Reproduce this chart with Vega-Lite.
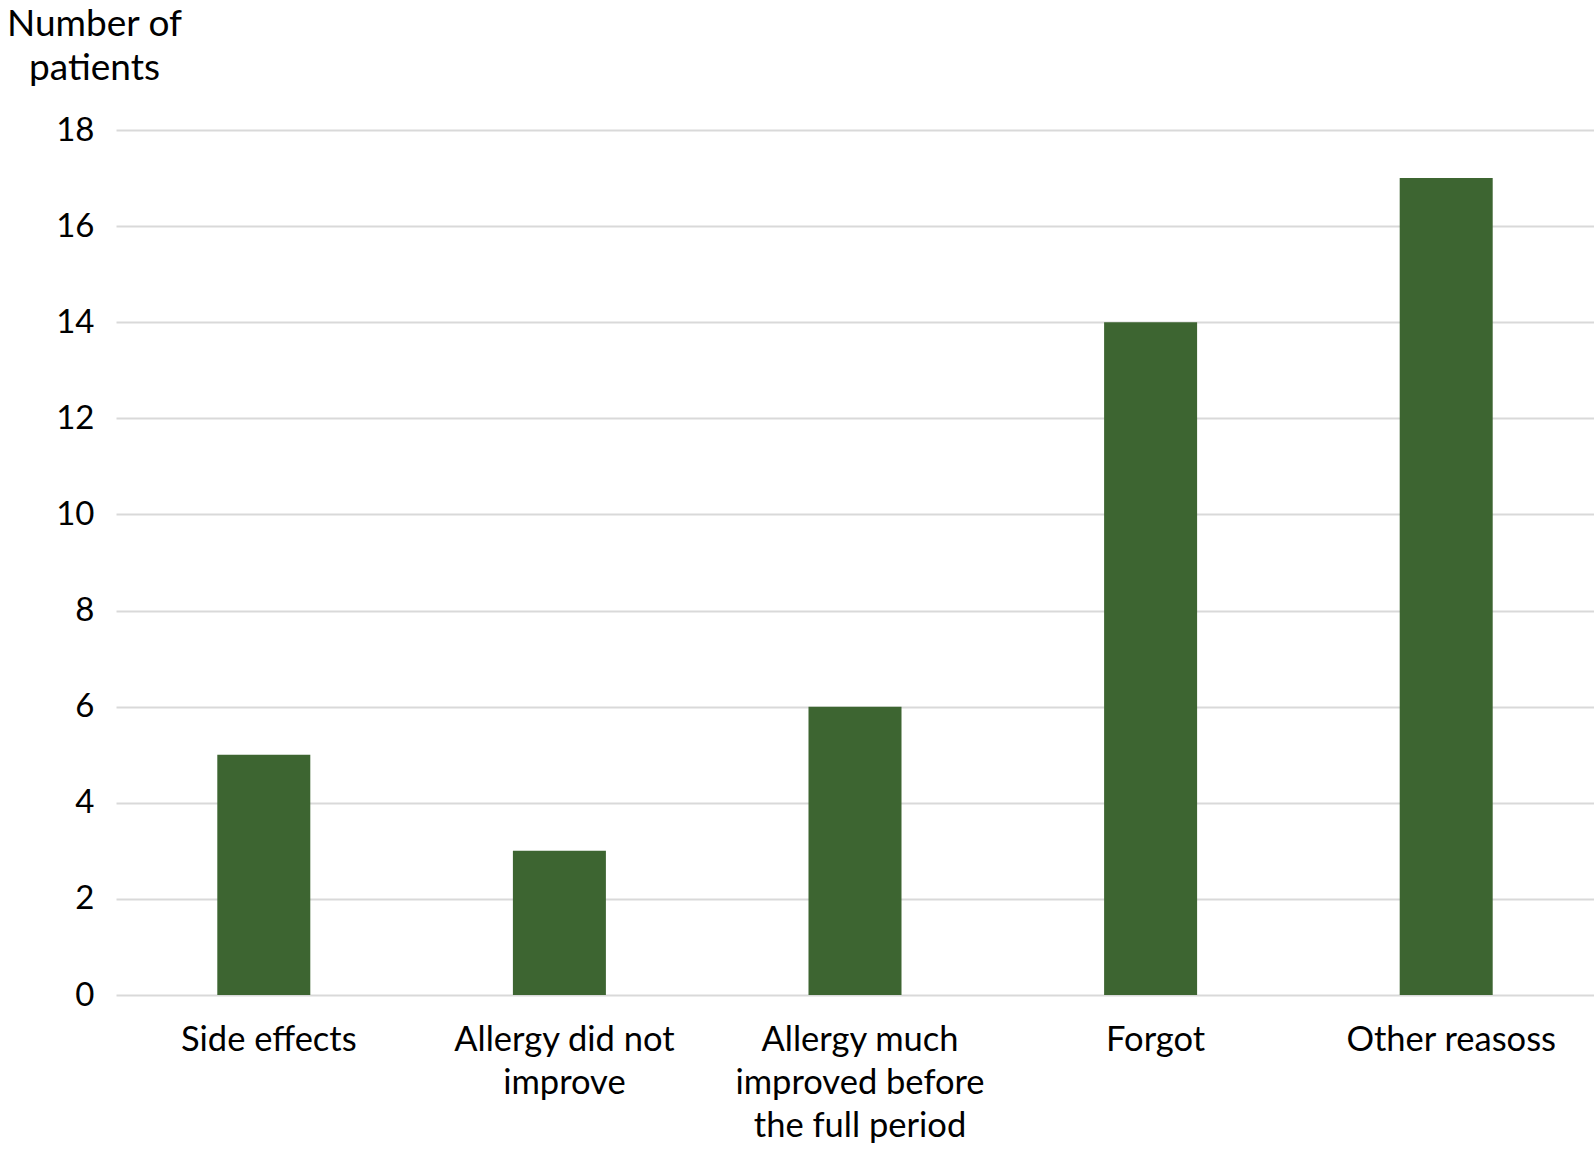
{
  "$schema": "https://vega.github.io/schema/vega-lite/v6.json",
  "width": 1478,
  "height": 865,
  "autosize": {"type": "none"},
  "padding": {"left": 116, "top": 130, "right": 0, "bottom": 154},
  "background": "white",
  "data": {"values": [
    {"reason": "Side effects", "patients": 5},
    {"reason": "Allergy did not\nimprove", "patients": 3},
    {"reason": "Allergy much\nimproved before\nthe full period", "patients": 6},
    {"reason": "Forgot", "patients": 14},
    {"reason": "Other reasoss", "patients": 17}
  ]},
  "config": {"view": {"stroke": null}, "font": "Lato"},
  "mark": {"type": "bar", "color": "#3d6531", "size": 93},
  "encoding": {
    "x": {
      "field": "reason", "type": "nominal", "sort": null,
      "scale": {"paddingInner": 0, "paddingOuter": 0},
      "axis": {
        "title": null, "labelAngle": 0, "labelFontSize": 34.5, "labelColor": "#000000",
        "labelExpr": "split(datum.label, '\\n')", "labelLineHeight": 43, "labelLimit": 0,
        "labelPadding": 28, "labelBaseline": "top", "labelOffset": 5,
        "domain": false, "ticks": false, "labelFont": "Lato"
      }
    },
    "y": {
      "field": "patients", "type": "quantitative",
      "scale": {"domain": [0, 18]},
      "axis": {
        "values": [0, 2, 4, 6, 8, 10, 12, 14, 16, 18],
        "title": ["Number of", "patients"], "titleAngle": 0, "titleAlign": "center",
        "titleBaseline": "alphabetic", "titleX": -22, "titleY": -95,
        "titleFontSize": 37, "titleFontWeight": "normal", "titleColor": "#000000", "titleLineHeight": 44,
        "titleFont": "Lato",
        "labelFontSize": 33, "labelColor": "#000000", "labelPadding": 22, "labelFont": "Lato",
        "domain": false, "ticks": false,
        "grid": true, "gridColor": "#d9d9d9", "gridWidth": 2
      }
    }
  }
}
